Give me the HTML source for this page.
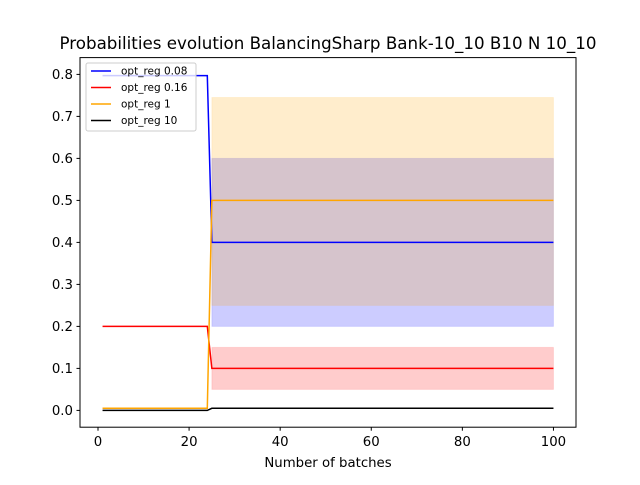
<!DOCTYPE html>
<html><head><meta charset="utf-8"><style>
body{margin:0;background:#fff;}
svg text{font-family:"DejaVu Sans","Liberation Sans",sans-serif;fill:#000;}
</style></head><body>
<svg id="chart" width="640" height="480" xmlns="http://www.w3.org/2000/svg">
<text x="328" y="49" font-size="16.7" text-anchor="middle">Probabilities evolution BalancingSharp Bank-10_10 B10 N 10_10</text>
<g id="fills"></g><g id="lines"></g>
<rect x="80" y="57.6" width="496" height="369.6" fill="none" stroke="#000" stroke-width="1"/>
<g id="xt"></g><g id="yt"></g>
<text x="328" y="467" font-size="13.3" text-anchor="middle">Number of batches</text>
<g>
<rect x="86" y="63" width="110" height="68" rx="2" fill="#fff" fill-opacity="0.8" stroke="#ccc"/>
<g id="leg"></g></g>
</svg>
<script>
const names=["opt_reg 0.08","opt_reg 0.16","opt_reg 1","opt_reg 10"];
const colors=["blue","red","orange","black"];
const before=[0.797,0.2,0.005,0.0];
const after=[0.4,0.1,0.5,0.005];
const bandLow=[0.2,0.05,0.25,0.0];
const bandHigh=[0.6,0.15,0.745,0.0];
const switchX=24;
const xTicks=[0,20,40,60,80,100];
const yTicks=[0,0.1,0.2,0.3,0.4,0.5,0.6,0.7,0.8];
const NS="http://www.w3.org/2000/svg";
const X=v=>80+(v+3.95)*496/108.9;
const Y=v=>427.2-(v+0.04)*369.6/0.88;
function mk(t,a,p){const e=document.createElementNS(NS,t);for(const k in a)e.setAttribute(k,a[k]);document.getElementById(p).appendChild(e);return e;}
for(let i=0;i<names.length;i++){
 if(bandHigh[i]>bandLow[i]){
  const r=mk('rect',{x:X(switchX+1),y:Y(bandHigh[i]),width:X(100)-X(switchX+1),height:Y(bandLow[i])-Y(bandHigh[i]),fill:colors[i],'fill-opacity':0.2,stroke:colors[i],'stroke-opacity':0.1},'fills');
  
  
 }
}
for(let i=0;i<names.length;i++){
 const pts=[[1,before[i]],[switchX,before[i]],[switchX+1,after[i]],[100,after[i]]];
 const l=mk('polyline',{points:pts.map(p=>X(p[0])+','+Y(p[1])).join(' '),fill:'none',stroke:colors[i],'stroke-width':1.5},'lines');
 
 
 const y=77+i*16.5;
 const s=mk('line',{x1:91,x2:111,y1:y-6,y2:y-6,stroke:colors[i],'stroke-width':1.5},'leg');
 
 
 const t=mk('text',{x:121,y:y-2.5,'font-size':10.5},'leg');t.textContent=names[i];
 
 
}
xTicks.forEach(v=>{mk('line',{x1:X(v),x2:X(v),y1:427.2,y2:430.7,stroke:'#000'},'xt');
 const t=mk('text',{x:X(v),y:446,'font-size':13.3,'text-anchor':'middle'},'xt');t.textContent=v;
 
 });
yTicks.forEach(v=>{mk('line',{x1:76.5,x2:80,y1:Y(v),y2:Y(v),stroke:'#000'},'yt');
 const t=mk('text',{x:73,y:Y(v)+4.8,'font-size':13.3,'text-anchor':'end'},'yt');t.textContent=v.toFixed(1);
 
 });
</script>
</body></html>
